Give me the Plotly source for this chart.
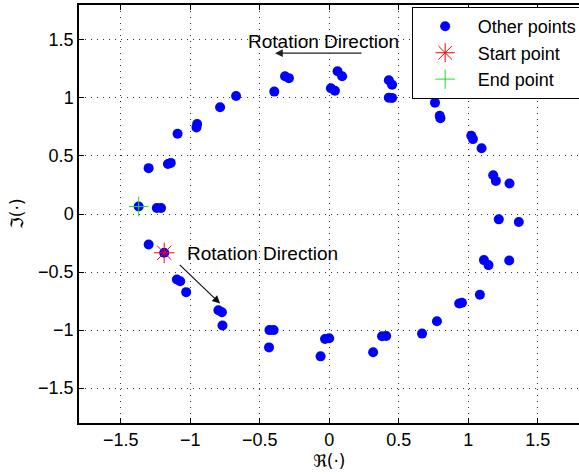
import plotly.graph_objects as go

# Other points (ordered counter-clockwise starting at start point)
other_x = [-1.187, -1.096, -1.072, -1.029, -0.797, -0.772, -0.768, -0.43, -0.40, -0.433,
           -0.062, -0.03, 0.0, 0.316, 0.38, 0.41, 0.668, 0.775, 0.935, 0.955,
           1.084, 1.113, 1.146, 1.295, 1.220, 1.364, 1.297, 1.180, 1.199, 1.096,
           1.022, 1.034, 0.795, 0.800, 0.761, 0.429, 0.452, 0.429, 0.452, 0.060,
           0.093, 0.012, 0.041, -0.318, -0.290, -0.395, -0.670, -0.785, -0.950, -0.955,
           -1.091, -1.16, -1.14, -1.299, -1.24, -1.21, -1.371, -1.299]
other_y = [-0.334, -0.564, -0.579, -0.673, -0.829, -0.846, -0.961, -1.00, -1.00, -1.149,
           -1.226, -1.076, -1.07, -1.191, -1.053, -1.05, -1.030, -0.924, -0.771, -0.765,
           -0.696, -0.397, -0.440, -0.400, -0.046, -0.069, 0.262, 0.334, 0.285, 0.567,
           0.674, 0.645, 0.846, 0.824, 0.959, 1.002, 1.0, 1.152, 1.114, 1.230,
           1.187, 1.083, 1.062, 1.187, 1.17, 1.054, 1.016, 0.919, 0.775, 0.745,
           0.691, 0.43, 0.44, 0.395, 0.052, 0.052, 0.064, -0.262]
start_x = [-1.187]
start_y = [-0.334]
end_x = [-1.371]
end_y = [0.064]
tick_vals = [-1.5, -1, -0.5, 0, 0.5, 1, 1.5]
tick_text = ["\u22121.5", "\u22121", "\u22120.5", "0", "0.5", "1", "1.5"]

FONT = "Liberation Sans, Arial, sans-serif"

fig = go.Figure()
fig.add_trace(go.Scatter(x=other_x, y=other_y, mode="markers", name="Other points",
                         marker=dict(color="#0000ff", size=10, symbol="circle")))
fig.add_trace(go.Scatter(x=start_x, y=start_y, mode="markers", name="Start point",
                         marker=dict(color="#ff0000", size=17, symbol="asterisk-open",
                                     line=dict(color="#ff0000", width=1))))
fig.add_trace(go.Scatter(x=end_x, y=end_y, mode="markers", name="End point",
                         marker=dict(color="#22dd22", size=14, symbol="cross-thin-open",
                                     line=dict(color="#22dd22", width=1))))

axis_common = dict(tickmode="array", tickvals=tick_vals, ticktext=tick_text,
                   ticks="inside", ticklen=5, tickcolor="black", tickwidth=1,
                   showgrid=True, gridcolor="#333333", griddash="1px,5px", gridwidth=1,
                   zeroline=False, showline=True, linecolor="black", linewidth=1.5,
                   automargin=False,
                   tickfont=dict(family=FONT, size=18, color="black"))

fig.update_xaxes(range=[-1.8, 1.797], mirror="ticks", **axis_common)
fig.update_yaxes(range=[-1.8, 1.8], mirror=False, **axis_common)

fig.add_annotation(x=-0.39, y=1.385, ax=0.244, ay=1.385, xref="x", yref="y", axref="x", ayref="y",
                   showarrow=True, arrowhead=2, arrowsize=1.3, arrowwidth=1.2, arrowcolor="#222222", text="")
fig.add_annotation(x=-0.60, y=1.485, xref="x", yref="y", text="Rotation Direction", showarrow=False,
                   xanchor="left", yanchor="middle", font=dict(family=FONT, size=19, color="black"))
fig.add_annotation(x=-0.785, y=-0.771, ax=-1.086, ay=-0.426, xref="x", yref="y", axref="x", ayref="y",
                   showarrow=True, arrowhead=2, arrowsize=1.3, arrowwidth=1.2, arrowcolor="#111111", text="")
fig.add_annotation(x=-1.04, y=-0.34, xref="x", yref="y", text="Rotation Direction", showarrow=False,
                   xanchor="left", yanchor="middle", font=dict(family=FONT, size=19, color="black"))

fig.add_annotation(x=0.5006, y=-0.092, xref="paper", yref="paper", text="\u211c(\u00b7)", showarrow=False,
                   xanchor="center", yanchor="middle", font=dict(family="DejaVu Sans", size=17, color="black"))
fig.add_annotation(x=-0.124, y=0.5, xref="paper", yref="paper", text="\u2111(\u00b7)", showarrow=False,
                   textangle=-90, xanchor="center", yanchor="middle",
                   font=dict(family="DejaVu Sans", size=17, color="black"))

fig.update_layout(
    width=579, height=474,
    margin=dict(l=79, r=0, t=5, b=51, autoexpand=False),
    paper_bgcolor="white", plot_bgcolor="white",
    showlegend=True,
    legend=dict(x=0.711, y=0.985, xref="container", yref="container",
                xanchor="left", yanchor="top",
                bgcolor="white", bordercolor="black", borderwidth=1,
                font=dict(family=FONT, size=18, color="black"),
                itemwidth=55, tracegroupgap=0),
)

fig.write_html("out.html", config={"displayModeBar": False},
               post_script="document.body.style.margin='0px';document.body.style.overflow='hidden';")
